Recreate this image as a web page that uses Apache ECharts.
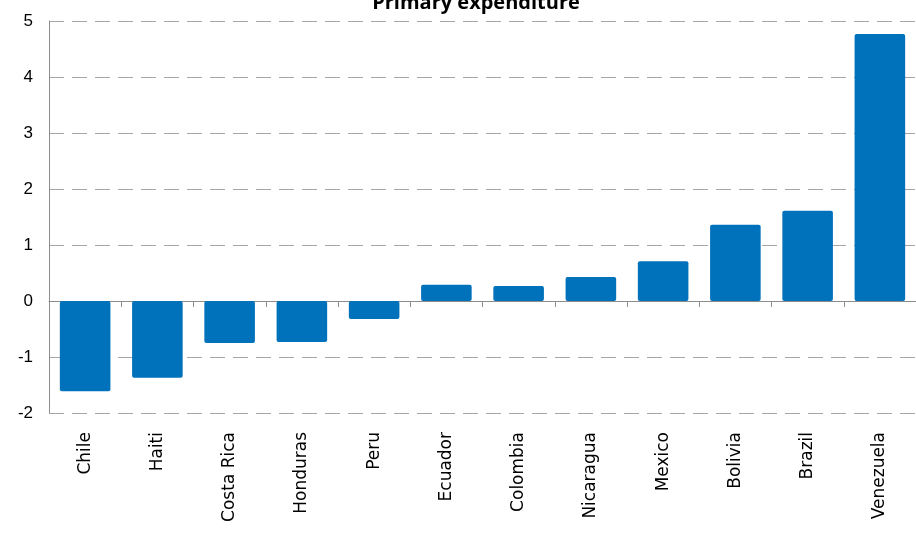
<!DOCTYPE html>
<html>
<head>
<meta charset="utf-8">
<script src="https://cdn.jsdelivr.net/npm/echarts@6/dist/echarts.min.js"></script>
<style>
html,body{margin:0;padding:0;background:#fff;}
#c{width:916px;height:536px;}
</style>
</head>
<body>
<div id="c"></div>
<script>
const titleText = 'Primary expenditure';
const categories = ['Chile','Haiti','Costa Rica','Honduras','Peru','Ecuador','Colombia','Nicaragua','Mexico','Bolivia','Brazil','Venezuela'];
const values = [-1.61, -1.37, -0.75, -0.73, -0.32, 0.29, 0.27, 0.43, 0.71, 1.36, 1.61, 4.77];
const yTicks = {min: -2, max: 5, interval: 1};

const chart = echarts.init(document.getElementById('c'), null, {renderer: 'canvas'});
chart.setOption({
  animation: false,
  backgroundColor: '#ffffff',
  title: {
    text: titleText,
    left: 471,
    textAlign: 'center',
    top: -12,
    textStyle: {fontFamily: 'Open Sans', fontWeight: 'bold', fontSize: 20, color: '#000'}
  },
  grid: {left: 49, right: 0, top: 21, bottom: 123, containLabel: false},
  xAxis: [
    {
      type: 'category',
      data: categories,
      position: 'bottom',
      axisLine: {show: false, onZero: false},
      axisTick: {show: false},
      axisLabel: {interval: 0, rotate: 90, margin: 19, fontFamily: 'DejaVu Sans', fontSize: 17, color: '#000'},
      splitLine: {show: false}
    },
    {
      type: 'category',
      data: categories,
      position: 'bottom',
      axisLine: {show: true, onZero: true, lineStyle: {color: '#8c8c8c', width: 1}},
      axisTick: {show: true, interval: 0, length: 6, lineStyle: {color: '#8c8c8c'}},
      axisLabel: {show: false, interval: 0},
      splitLine: {show: false}
    }
  ],
  yAxis: {
    type: 'value',
    min: yTicks.min,
    max: yTicks.max,
    interval: yTicks.interval,
    axisLine: {show: true, lineStyle: {color: '#8c8c8c', width: 1}},
    axisTick: {show: false},
    axisLabel: {margin: 16, fontFamily: 'Liberation Sans', fontSize: 17, color: '#000'},
    splitLine: {show: true, lineStyle: {color: '#a6a6a6', type: [15, 8], width: 1}}
  },
  series: [{
    type: 'bar',
    xAxisIndex: 0,
    data: values,
    barCategoryGap: '30%',
    itemStyle: {color: '#0072BC', borderRadius: 2}
  }]
});
</script>
</body>
</html>
